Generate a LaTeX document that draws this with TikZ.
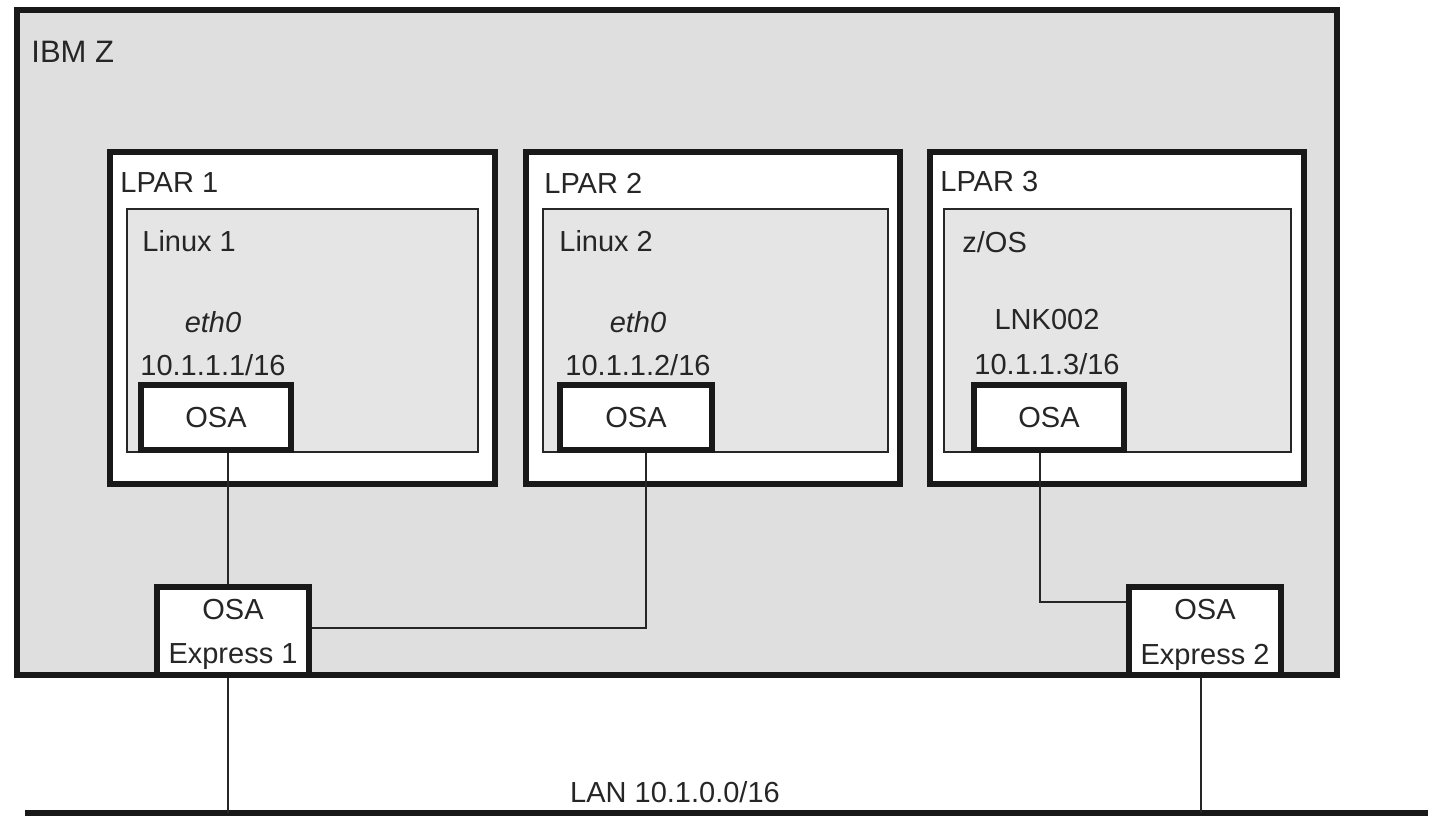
\documentclass[tikz,border=0pt]{standalone}
\usepackage{fontspec}
\setmainfont{Liberation Sans}
\begin{document}
\begin{tikzpicture}[x=0.5pt,y=-0.5pt,
  every node/.style={text=black!85},
  lbl/.style={font=\fontsize{14.5}{17}\selectfont, inner sep=0pt},
  zbox/.style={draw=black!90, line width=3pt, fill=gray!25, inner sep=0pt},
  lpar/.style={draw=black!90, line width=2.75pt, fill=white, inner sep=0pt},
  osbox/.style={draw=black!85, line width=0.8pt, fill=gray!20, inner sep=0pt},
  osa/.style={draw=black!90, line width=2.6pt, fill=white, inner sep=0pt, font=\fontsize{14.5}{17}\selectfont},
  osae/.style={draw=black!90, line width=2.6pt, fill=white, inner sep=0pt},
  link/.style={draw=black!85, line width=1pt},
  lan/.style={draw=black!90, line width=3pt}
]
\useasboundingbox (0,0) rectangle (1436,818);

% IBM Z
\node[zbox, minimum width=660pt, minimum height=332.5pt] (ibmz) at (677,342.5) {};
\node[lbl, anchor=west, font=\fontsize{15.5}{18}\selectfont] (tibmz) at (31,52) {IBM Z};

% LPARs
\node[lpar, minimum width=192.5pt, minimum height=166pt] (lpar1) at (302.5,318) {};
\node[lpar, minimum width=187pt, minimum height=166pt] (lpar2) at (713,318) {};
\node[lpar, minimum width=187pt, minimum height=166pt] (lpar3) at (1117,318) {};
\node[lbl, anchor=west] (tlpar1) at (120,183) {LPAR 1};
\node[lbl, anchor=west] (tlpar2) at (544,183) {LPAR 2};
\node[lbl, anchor=west] (tlpar3) at (940,182) {LPAR 3};

% OS boxes
\node[osbox, minimum width=175.5pt, minimum height=121.5pt] (linux1) at (302.5,330.5) {};
\node[osbox, minimum width=172.5pt, minimum height=121.5pt] (linux2) at (715.5,330.5) {};
\node[osbox, minimum width=173.5pt, minimum height=121.5pt] (zos) at (1117.5,330.5) {};
\node[lbl, anchor=west] (tlinux1) at (142,241) {Linux 1};
\node[lbl, anchor=west] (tlinux2) at (559,241) {Linux 2};
\node[lbl, anchor=west] (tzos) at (962,242) {z/OS};

% interface labels
\node[lbl, font=\fontsize{14.5}{17}\selectfont\itshape] (ifa) at (213,322) {eth0};
\node[lbl] (ipa) at (213,365) {10.1.1.1/16};
\node[lbl, font=\fontsize{14.5}{17}\selectfont\itshape] (ifb) at (638,322) {eth0};
\node[lbl] (ipb) at (638,365) {10.1.1.2/16};
\node[lbl] (ifc) at (1047,320) {LNK002};
\node[lbl] (ipc) at (1047,364) {10.1.1.3/16};

% connector coordinates
\coordinate (c1) at (228,0);
\coordinate (c2) at (646,628);
\coordinate (c3) at (1040,602);
\coordinate (c4) at (1201,0);
\coordinate (lanL) at (25,813);
\coordinate (lanR) at (1428,813);

% OSA boxes in LPARs
\node[osa, minimum width=75pt, minimum height=32.5pt] (osa1) at (216,417.5) {OSA};
\node[osa, minimum width=76pt, minimum height=32.5pt] (osa2) at (636,417.5) {OSA};
\node[osa, minimum width=75pt, minimum height=32.5pt] (osa3) at (1049,417.5) {OSA};

% links inside IBM Z
\draw[link] (osa1.south -| c1) -- (c1 |- 0,587);
\draw[link] (osa2.south -| c2) -- (c2) -- (309,628);
\draw[link] (osa3.south -| c3) -- (c3) -- (1129,602);

% OSA Express adapters
\node[osae, minimum width=76pt, minimum height=44pt] (osae1) at (233,631) {};
\node[osae, minimum width=76pt, minimum height=44pt] (osae2) at (1205,631) {};
\node[lbl] (tosae1a) at (233,610) {OSA};
\node[lbl] (tosae1b) at (233,657) {Express 1};
\node[lbl] (tosae2a) at (1205,610) {OSA};
\node[lbl] (tosae2b) at (1205,657) {Express 2};

% LAN
\draw[lan] (lanL) -- (lanR);
\draw[link] (osae1.south -| c1) -- (lanL -| c1);
\draw[link] (osae2.south -| c4) -- (lanL -| c4);
\node[lbl] (tlan) at (675,792) {LAN 10.1.0.0/16};
\end{tikzpicture}
\end{document}
